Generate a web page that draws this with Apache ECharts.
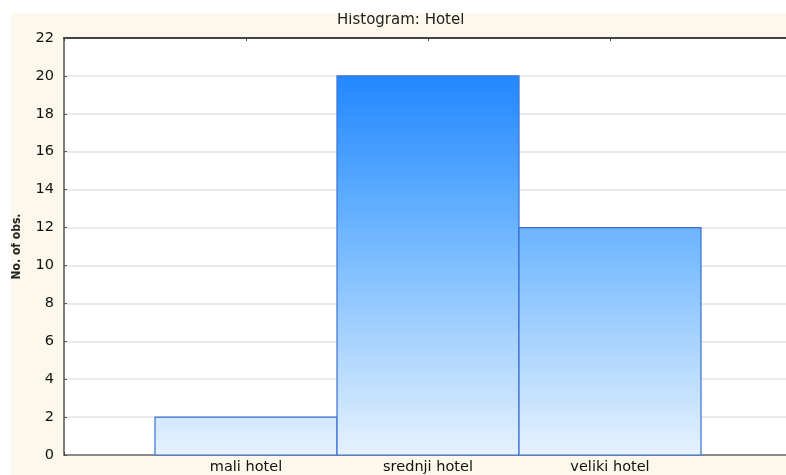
<!DOCTYPE html>
<html>
<head>
<meta charset="utf-8">
<script src="https://cdn.jsdelivr.net/npm/echarts@6/dist/echarts.min.js"></script>
<style>
  html, body { margin: 0; padding: 0; background: #fff; overflow: hidden; width: 786px; height: 475px; }
  #chart { position: absolute; left: 11px; top: 13px; width: 781px; height: 462px; background: #fdf8ec; }
</style>
</head>
<body>
<div id="chart"></div>
<script>
var categories = ['mali hotel', 'srednji hotel', 'veliki hotel']
var counts = [2, 20, 12]
var yMax = 22
var yStep = 2

var chart = echarts.init(document.getElementById('chart'))

// bars sit at x = 1, 2, 3 on a value axis, each one unit wide
var barData = counts.map(function (c, i) { return [i + 1, c] })

var font = 'DejaVu Sans, Verdana, sans-serif'

var option = {
  animation: false,
  title: {
    text: 'Histogram: Hotel',
    left: 326,
    top: 0,
    padding: [0, 0],
    textStyle: { fontFamily: font, fontSize: 15, fontWeight: 'normal', color: '#222' }
  },
  grid: {
    left: 53, top: 25, right: 0, bottom: 20,
    outerBoundsMode: 'none',
    show: true, backgroundColor: '#fff', borderWidth: 0
  },
  xAxis: [{
    type: 'value',
    min: 0,
    max: 4,
    interval: 1,
    axisLine: { show: true, lineStyle: { color: '#8a8a8a', width: 2 } },
    axisTick: { show: true, inside: true, length: 3, lineStyle: { color: '#444' } },
    splitLine: { show: false },
    axisLabel: {
      margin: 5,
      fontFamily: font, fontSize: 14.5, color: '#111',
      formatter: function (v) { return categories[v - 1] || '' }
    }
  }, {
    type: 'value',
    position: 'top',
    min: 0,
    max: 4,
    interval: 1,
    axisLine: { show: true, lineStyle: { color: '#444', width: 2 } },
    axisTick: { show: true, inside: true, length: 3, lineStyle: { color: '#444' } },
    axisLabel: { show: false },
    splitLine: { show: false }
  }],
  yAxis: {
    type: 'value',
    min: 0,
    max: yMax,
    interval: yStep,
    name: 'No. of obs.',
    nameLocation: 'middle',
    nameGap: 41,
    nameTextStyle: { fontFamily: 'DejaVu Sans Condensed, DejaVu Sans, sans-serif', fontSize: 12, fontWeight: 'bold', color: '#222' },
    axisLine: { show: true, lineStyle: { color: '#555', width: 1.5 } },
    axisTick: { show: true, inside: true, length: 3, lineStyle: { color: '#555' } },
    axisLabel: { margin: 10, fontFamily: font, fontSize: 14.5, color: '#111' },
    splitLine: { show: true, lineStyle: { color: '#ebebeb', width: 2 } }
  },
  series: [{
    type: 'custom',
    data: barData,
    renderItem: function (params, api) {
      var x = api.value(0)
      var y = api.value(1)
      var p0 = api.coord([x - 0.5, y])
      var p1 = api.coord([x + 0.5, 0])
      var top = api.coord([0, yMax])[1]
      var bottom = api.coord([0, 0])[1]
      var grad = new echarts.graphic.LinearGradient(0, top, 0, bottom, [
        { offset: 0, color: '#0f7cff' },
        { offset: 0.45, color: '#6ab4ff' },
        { offset: 1, color: '#e6f2fd' }
      ], true)
      return {
        type: 'rect',
        shape: { x: p0[0], y: p0[1], width: p1[0] - p0[0], height: p1[1] - p0[1] },
        style: { fill: grad, stroke: '#3b6fd6', lineWidth: 1.2 }
      }
    }
  }]
}

chart.setOption(option)
</script>
</body>
</html>
